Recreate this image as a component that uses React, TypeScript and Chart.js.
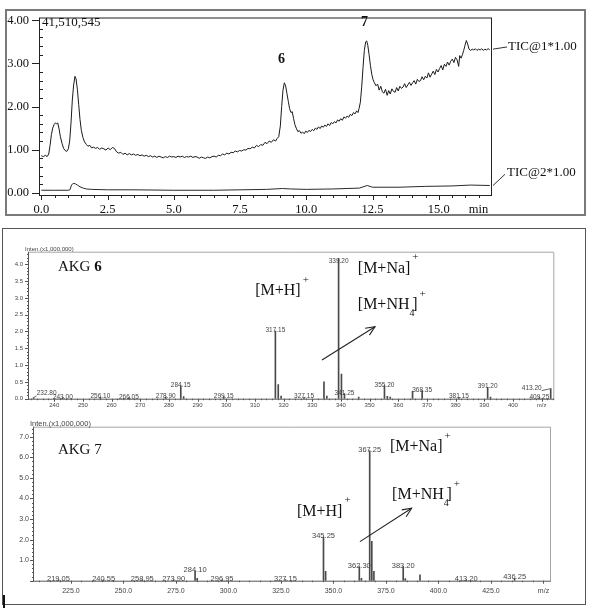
import React, { useEffect, useRef } from 'react';
import { Chart, registerables } from 'chart.js';

Chart.register(...registerables);

const SERIF = '"Liberation Serif", "DejaVu Serif", serif';
const SANS = '"Liberation Sans", "DejaVu Sans", sans-serif';

// ---------------- Chromatogram (TIC) ----------------
const tic1Time = [
  0.00, 0.08, 0.15, 0.22, 0.28, 0.33, 0.38, 0.43, 0.48, 0.53, 0.58, 0.62, 0.67, 0.72, 0.78, 0.84, 0.90, 0.96,
  1.02, 1.07, 1.12, 1.17, 1.22, 1.27, 1.31, 1.36, 1.41, 1.46, 1.51, 1.57, 1.63, 1.70, 1.76, 1.83, 1.90, 1.97,
  2.05, 2.12, 2.20, 2.28, 2.36, 2.44, 2.52, 2.60, 2.68, 2.76, 2.84, 2.92, 3.00, 3.08, 3.16, 3.24, 3.32, 3.40,
  3.48, 3.56, 3.64, 3.72, 3.80, 3.88, 3.96, 4.04, 4.12, 4.20, 4.28, 4.36, 4.44, 4.52, 4.60, 4.68, 4.76, 4.84,
  4.92, 5.00, 5.08, 5.16, 5.24, 5.32, 5.40, 5.48, 5.56, 5.64, 5.72, 5.80, 5.88, 5.96, 6.04, 6.12, 6.20, 6.28,
  6.36, 6.44, 6.52, 6.60, 6.68, 6.76, 6.84, 6.92, 7.00, 7.08, 7.16, 7.24, 7.32, 7.40, 7.48, 7.56, 7.64, 7.72,
  7.80, 7.88, 7.96, 8.04, 8.12, 8.20, 8.28, 8.36, 8.44, 8.52, 8.60, 8.68, 8.76, 8.84, 8.90, 8.96, 9.02, 9.07,
  9.12, 9.17, 9.22, 9.27, 9.32, 9.37, 9.42, 9.47, 9.52, 9.57, 9.62, 9.68, 9.74, 9.80, 9.86, 9.92, 9.98, 10.04,
  10.10, 10.16, 10.22, 10.28, 10.34, 10.40, 10.46, 10.52, 10.58, 10.64, 10.70, 10.76, 10.82, 10.88, 10.94,
  11.00, 11.06, 11.12, 11.18, 11.24, 11.30, 11.36, 11.42, 11.48, 11.54, 11.60, 11.66, 11.72, 11.78, 11.84,
  11.90, 11.95, 11.99, 12.04, 12.09, 12.14, 12.19, 12.24, 12.28, 12.32, 12.37, 12.42, 12.47, 12.52, 12.57,
  12.63, 12.69, 12.75, 12.81, 12.87, 12.93, 12.99, 13.05, 13.11, 13.17, 13.23, 13.29, 13.35, 13.41, 13.47,
  13.53, 13.59, 13.65, 13.71, 13.77, 13.83, 13.89, 13.95, 14.01, 14.07, 14.13, 14.19, 14.25, 14.31, 14.37,
  14.43, 14.49, 14.55, 14.61, 14.67, 14.73, 14.79, 14.85, 14.91, 14.97, 15.03, 15.09, 15.15, 15.21, 15.27,
  15.33, 15.39, 15.45, 15.51, 15.57, 15.63, 15.69, 15.75, 15.79, 15.84, 15.89, 15.94, 15.99, 16.04, 16.09,
  16.14, 16.20, 16.26, 16.32, 16.38, 16.44, 16.50, 16.56, 16.62, 16.68, 16.74, 16.80, 16.86, 16.92,
];
const tic1Value = [
  0.86, 0.84, 0.87, 0.84, 0.90, 1.10, 1.35, 1.50, 1.58, 1.62, 1.60, 1.62, 1.48, 1.30, 1.15, 1.03, 0.98, 0.96,
  1.02, 1.20, 1.62, 2.15, 2.50, 2.70, 2.64, 2.40, 2.05, 1.70, 1.45, 1.28, 1.18, 1.12, 1.08, 1.10, 1.04, 1.06,
  1.03, 1.05, 1.01, 1.04, 1.02, 0.99, 1.04, 1.00, 1.05, 1.03, 0.95, 0.92, 0.94, 0.89, 0.92, 0.88, 0.91, 0.88,
  0.90, 0.87, 0.89, 0.86, 0.88, 0.85, 0.87, 0.84, 0.86, 0.83, 0.85, 0.82, 0.85, 0.83, 0.81, 0.84, 0.82, 0.85,
  0.83, 0.84, 0.82, 0.85, 0.83, 0.85, 0.82, 0.84, 0.83, 0.85, 0.82, 0.84, 0.83, 0.80, 0.83, 0.81, 0.80, 0.83,
  0.81, 0.84, 0.85, 0.83, 0.87, 0.86, 0.90, 0.88, 0.92, 0.90, 0.94, 0.93, 0.97, 0.95, 0.98, 0.97, 1.00, 0.99,
  1.03, 1.02, 1.06, 1.04, 1.10, 1.07, 1.12, 1.10, 1.17, 1.14, 1.20, 1.17, 1.23, 1.20, 1.26, 1.30, 1.55, 2.00,
  2.38, 2.55, 2.48, 2.30, 2.12, 1.95, 1.86, 1.88, 1.72, 1.58, 1.50, 1.42, 1.44, 1.38, 1.41, 1.37, 1.43, 1.40,
  1.45, 1.42, 1.47, 1.44, 1.50, 1.47, 1.53, 1.49, 1.55, 1.52, 1.57, 1.54, 1.60, 1.56, 1.63,
  1.60, 1.65, 1.62, 1.69, 1.66, 1.72, 1.68, 1.76, 1.73, 1.78, 1.75, 1.82, 1.79, 1.86, 1.83,
  1.90, 1.86, 1.95, 2.10, 2.45, 2.90, 3.30, 3.50, 3.52, 3.42, 3.20, 2.95, 2.75, 2.62, 2.55,
  2.48, 2.52, 2.38, 2.47, 2.34, 2.31, 2.40, 2.26, 2.37, 2.29, 2.41, 2.35, 2.33, 2.44, 2.36,
  2.47, 2.42, 2.45, 2.53, 2.44, 2.50, 2.56, 2.49, 2.55, 2.60, 2.52, 2.63, 2.58, 2.60, 2.69,
  2.62, 2.70, 2.66, 2.78, 2.68, 2.75, 2.82, 2.74, 2.86, 2.80, 2.88, 2.95, 2.85, 2.98, 2.93,
  3.03, 2.96, 3.05, 3.10, 3.02, 3.14, 3.08, 2.93, 3.18, 3.12, 3.20, 3.30, 3.42, 3.53, 3.45,
  3.33, 3.30, 3.33, 3.31, 3.34, 3.30, 3.33, 3.31, 3.34, 3.30, 3.33, 3.31, 3.34, 3.32,
];
const tic2Time = [0.00, 0.50, 1.00, 1.08, 1.14, 1.20, 1.28, 1.36, 1.46, 1.58, 1.70, 1.90, 2.50, 3.50, 5.00, 6.50, 7.50, 8.50, 9.10, 9.40, 10.00, 11.00, 12.00, 12.30, 12.50, 13.50, 14.50, 15.50, 16.20, 16.92];
const tic2Value = [0.06, 0.06, 0.06, 0.07, 0.18, 0.22, 0.21, 0.18, 0.14, 0.11, 0.09, 0.08, 0.07, 0.07, 0.06, 0.06, 0.07, 0.08, 0.10, 0.09, 0.08, 0.09, 0.11, 0.17, 0.13, 0.13, 0.15, 0.16, 0.18, 0.17];
const peakMarkText = ['6', '7'];
const peakMarkTime = [9.06, 12.2];
const peakMarkValue = [3.1, 3.95];

// ---------------- Mass spectrum AKG 6 ----------------
const ms6Mz = [232.80, 243.00, 256.10, 266.05, 278.90, 284.15, 285.15, 299.15, 317.15, 318.15, 319.15, 327.15, 334.10, 335.10, 339.20, 340.20, 341.25, 346.20, 355.20, 356.20, 357.20, 365.00, 368.35, 381.15, 391.20, 392.20, 409.25, 413.20];
const ms6Int = [0.03, 0.03, 0.04, 0.03, 0.05, 0.38, 0.06, 0.06, 2.01, 0.42, 0.08, 0.04, 0.50, 0.08, 4.18, 0.73, 0.15, 0.05, 0.39, 0.07, 0.05, 0.22, 0.24, 0.04, 0.34, 0.05, 0.03, 0.30];
const ms6Label = ['232.80', '243.00', '256.10', '266.05', '278.90', '284.15', '', '299.15', '317.15', '', '', '327.15', '', '', '339.20', '', '341.25', '', '355.20', '', '', '', '368.35', '381.15', '391.20', '', '409.25', '413.20'];

// ---------------- Mass spectrum AKG 7 ----------------
const ms7Mz = [219.05, 240.55, 258.95, 273.90, 284.10, 285.10, 296.95, 327.15, 345.25, 346.25, 362.30, 363.30, 367.25, 368.25, 369.25, 383.20, 384.20, 391.20, 413.20, 436.25];
const ms7Int = [0.04, 0.04, 0.04, 0.04, 0.45, 0.12, 0.04, 0.05, 2.12, 0.45, 0.69, 0.12, 6.32, 1.92, 0.45, 0.69, 0.10, 0.29, 0.04, 0.12];
const ms7Label = ['219.05', '240.55', '258.95', '273.90', '284.10', '', '296.95', '327.15', '345.25', '', '362.30', '', '367.25', '', '', '383.20', '', '', '413.20', '436.25'];

type Ion = { text: string; sub: string; mz: number; v: number };
const ms6Ions: Ion[] = [
  { text: '[M+H]', sub: '', mz: 310.1, v: 3.21 },
  { text: '[M+Na]', sub: '', mz: 345.9, v: 3.88 },
  { text: '[M+NH', sub: '4', mz: 345.9, v: 2.79 },
];
const ms7Ions: Ion[] = [
  { text: '[M+Na]', sub: '', mz: 376.9, v: 6.52 },
  { text: '[M+NH', sub: '4', mz: 377.9, v: 4.17 },
  { text: '[M+H]', sub: '', mz: 332.6, v: 3.36 },
];

const near = (v: number, m: number) => Math.abs(v / m - Math.round(v / m)) < 1e-6;
const pts = (xs: number[], ys: number[]) => xs.map((x, i) => ({ x, y: ys[i] }));

function seg(ctx: any, x1: number, y1: number, x2: number, y2: number) {
  ctx.beginPath();
  ctx.moveTo(x1, y1);
  ctx.lineTo(x2, y2);
  ctx.stroke();
}

function arrow(ctx: any, x1: number, y1: number, x2: number, y2: number) {
  seg(ctx, x1, y1, x2, y2);
  const ang = Math.atan2(y2 - y1, x2 - x1);
  const L = 10, w = 0.42;
  ctx.beginPath();
  ctx.moveTo(x2 - L * Math.cos(ang - w), y2 - L * Math.sin(ang - w));
  ctx.lineTo(x2, y2);
  ctx.lineTo(x2 - L * Math.cos(ang + w), y2 - L * Math.sin(ang + w));
  ctx.stroke();
}

const ticDecor = {
  id: 'ticDecor',
  afterDraw(chart: any) {
    const { ctx, chartArea: a } = chart;
    const x = chart.scales.x, y = chart.scales.y;
    ctx.save();
    ctx.strokeStyle = '#222';
    ctx.lineWidth = 1;
    ctx.strokeRect(a.left - 0.5, a.top - 0.5, a.right - a.left + 1, a.bottom - a.top + 1);
    y.ticks.forEach((t: any) => {
      const py = Math.round(y.getPixelForValue(t.value)) + 0.5;
      if (near(t.value, 1)) seg(ctx, a.left - 8, py, a.left, py);
      else seg(ctx, a.left, py, a.left + 3, py);
    });
    x.ticks.forEach((t: any) => {
      const px = Math.round(x.getPixelForValue(t.value)) + 0.5;
      seg(ctx, px, a.bottom, px, a.bottom + (near(t.value, 2.5) ? 5 : 3));
    });
    ctx.fillStyle = '#111';
    ctx.font = `13px ${SERIF}`;
    ctx.textAlign = 'left';
    ctx.textBaseline = 'middle';
    ctx.fillText('41,510,545', a.left + 2, y.getPixelForValue(3.95));
    // channel labels
    ctx.fillText('TIC@1*1.00', a.right + 17, y.getPixelForValue(3.38));
    ctx.fillText('TIC@2*1.00', a.right + 16, y.getPixelForValue(0.46));
    ctx.strokeStyle = '#333';
    seg(ctx, a.right + 2, y.getPixelForValue(3.33), a.right + 16, y.getPixelForValue(3.38));
    seg(ctx, a.right + 2, y.getPixelForValue(0.17), a.right + 14, y.getPixelForValue(0.43));
    // peak numbers
    ctx.font = `bold 14px ${SERIF}`;
    ctx.textAlign = 'center';
    peakMarkText.forEach((s, i) => {
      ctx.fillText(s, x.getPixelForValue(peakMarkTime[i]), y.getPixelForValue(peakMarkValue[i]));
    });
    ctx.restore();
  },
};

type MsCfg = {
  mz: number[]; inten: number[]; labels: string[];
  labelFont: number; intenFont: number; xMajor: number; yMajor: number;
  ions: Ion[]; arrowFrom: number[]; arrowTo: number[];
  title: string; titleNum: string; titleBold: boolean; titlePos: number[];
  shifts: Record<string, number[]>;
};

function makeMsDecor(cfg: MsCfg) {
  return {
    id: 'msDecor',
    afterDraw(chart: any) {
      const { ctx, chartArea: a } = chart;
      const x = chart.scales.x, y = chart.scales.y;
      ctx.save();
      ctx.lineWidth = 1;
      ctx.strokeStyle = '#a5a5a5';
      ctx.beginPath();
      ctx.moveTo(a.left, a.top - 0.5);
      ctx.lineTo(a.right + 0.5, a.top - 0.5);
      ctx.lineTo(a.right + 0.5, a.bottom);
      ctx.stroke();
      ctx.strokeStyle = '#555';
      ctx.beginPath();
      ctx.moveTo(a.left - 0.5, a.top - 1);
      ctx.lineTo(a.left - 0.5, a.bottom + 0.5);
      ctx.lineTo(a.right + 1, a.bottom + 0.5);
      ctx.stroke();
      y.ticks.forEach((t: any) => {
        const py = Math.round(y.getPixelForValue(t.value)) + 0.5;
        seg(ctx, a.left - (near(t.value, cfg.yMajor) ? 4 : 2), py, a.left, py);
      });
      x.ticks.forEach((t: any) => {
        const px = Math.round(x.getPixelForValue(t.value)) + 0.5;
        seg(ctx, px, a.bottom, px, a.bottom + (near(t.value, cfg.xMajor) ? 3 : 1.5));
      });
      ctx.fillStyle = '#444';
      ctx.font = `${cfg.intenFont}px ${SANS}`;
      ctx.textAlign = 'left';
      ctx.textBaseline = 'bottom';
      ctx.fillText('Inten.(x1,000,000)', a.left - 4, a.top - 0.5);
      // peak labels
      ctx.font = `${cfg.labelFont}px ${SANS}`;
      ctx.textAlign = 'center';
      ctx.textBaseline = 'alphabetic';
      ctx.strokeStyle = '#666';
      cfg.labels.forEach((lab, i) => {
        if (!lab) return;
        const px = x.getPixelForValue(cfg.mz[i]);
        const py = y.getPixelForValue(cfg.inten[i]);
        const s = cfg.shifts[lab] || [0, 0];
        const tx = px + s[0];
        const ty = Math.max(py + 1, a.top + 10) + s[1];
        ctx.fillText(lab, tx, ty);
        if (s[0] !== 0) {
          const w = ctx.measureText(lab).width;
          seg(ctx, px, py, tx - Math.sign(s[0]) * w / 2, ty + 1);
        }
      });
      // title
      ctx.fillStyle = '#111';
      ctx.textAlign = 'left';
      ctx.textBaseline = 'middle';
      ctx.font = `15px ${SERIF}`;
      const tx0 = x.getPixelForValue(cfg.titlePos[0]);
      const ty0 = y.getPixelForValue(cfg.titlePos[1]);
      ctx.fillText(cfg.title, tx0, ty0);
      const tw = ctx.measureText(cfg.title).width;
      ctx.font = `${cfg.titleBold ? 'bold ' : ''}15px ${SERIF}`;
      ctx.fillText(cfg.titleNum, tx0 + tw, ty0);
      // ion labels
      cfg.ions.forEach((ion) => {
        const ix = x.getPixelForValue(ion.mz);
        const iy = y.getPixelForValue(ion.v);
        ctx.font = `16px ${SERIF}`;
        ctx.fillText(ion.text, ix, iy);
        let cx = ix + ctx.measureText(ion.text).width;
        if (ion.sub) {
          ctx.font = `10px ${SERIF}`;
          ctx.fillText(ion.sub, cx, iy + 8);
          cx += ctx.measureText(ion.sub).width * 0.55;
          ctx.font = `16px ${SERIF}`;
          ctx.fillText(']', cx, iy);
          cx += ctx.measureText(']').width;
        }
        ctx.font = `11px ${SERIF}`;
        ctx.fillText('+', cx + 2, iy - 11);
      });
      ctx.strokeStyle = '#222';
      ctx.lineWidth = 1.1;
      arrow(ctx, x.getPixelForValue(cfg.arrowFrom[0]), y.getPixelForValue(cfg.arrowFrom[1]),
        x.getPixelForValue(cfg.arrowTo[0]), y.getPixelForValue(cfg.arrowTo[1]));
      ctx.restore();
    },
  };
}

function msChart(canvas: HTMLCanvasElement, o: any) {
  return new Chart(canvas, {
    type: 'bar',
    data: {
      datasets: [{ data: pts(o.mz, o.inten), backgroundColor: '#4a4a4a', borderWidth: 0, barThickness: 1 } as any],
    },
    options: {
      animation: false,
      responsive: false,
      devicePixelRatio: 1,
      layout: { padding: o.padding },
      plugins: { legend: { display: false }, tooltip: { enabled: false } },
      scales: {
        x: {
          type: 'linear', min: o.xMin, max: o.xMax, offset: false,
          afterFit: (s: any) => { s.height = o.xHeight; },
          grid: { display: false, drawTicks: false, offset: false },
          border: { display: false },
          ticks: {
            stepSize: o.xStep, includeBounds: false, autoSkip: false, maxRotation: 0, minRotation: 0,
            padding: o.xPad, color: '#444', font: { family: SANS, size: o.tickFont },
            callback: o.xCallback,
          },
        },
        y: {
          type: 'linear', min: 0, max: o.yMax,
          afterFit: (s: any) => { s.width = o.yWidth; },
          grid: { display: false, drawTicks: false },
          border: { display: false },
          ticks: {
            stepSize: o.yStep, includeBounds: false, autoSkip: false,
            padding: o.yPad, color: '#444', font: { family: SANS, size: o.tickFont },
            callback: o.yCallback,
          },
        },
      },
    } as any,
    plugins: [makeMsDecor(o.decor)],
  });
}

export default function App() {
  const c1 = useRef<HTMLCanvasElement>(null);
  const c2 = useRef<HTMLCanvasElement>(null);
  const c3 = useRef<HTMLCanvasElement>(null);

  useEffect(() => {
    const charts: Chart[] = [];
    if (c1.current) {
      charts.push(new Chart(c1.current, {
        type: 'line',
        data: {
          datasets: [
            { data: pts(tic1Time, tic1Value), borderColor: '#1a1a1a', borderWidth: 1, pointRadius: 0, tension: 0 },
            { data: pts(tic2Time, tic2Value), borderColor: '#2a2a2a', borderWidth: 1, pointRadius: 0, tension: 0 },
          ],
        },
        options: {
          animation: false,
          responsive: false,
          devicePixelRatio: 1,
          layout: { padding: { left: 0, top: 13, right: 107, bottom: 0 } },
          plugins: { legend: { display: false }, tooltip: { enabled: false } },
          scales: {
            x: {
              type: 'linear', min: -0.05, max: 16.97,
              afterFit: (s: any) => { s.height = 27; },
              grid: { display: false, drawTicks: false },
              border: { display: false },
              ticks: {
                stepSize: 0.5, includeBounds: false, autoSkip: false, maxRotation: 0, minRotation: 0,
                padding: 7, color: '#111', font: { family: SERIF, size: 12.5 },
                callback: (v: any) => (near(v, 2.5) ? Number(v).toFixed(1) : Math.abs(v - 16.5) < 1e-6 ? 'min' : ''),
              },
            },
            y: {
              type: 'linear', min: -0.05, max: 4.04,
              afterFit: (s: any) => { s.width = 40; },
              grid: { display: false, drawTicks: false },
              border: { display: false },
              ticks: {
                stepSize: 0.2, includeBounds: false, autoSkip: false,
                padding: 11, color: '#111', font: { family: SERIF, size: 12.5 },
                callback: (v: any) => (near(v, 1) ? Number(v).toFixed(2) : ''),
              },
            },
          },
        } as any,
        plugins: [ticDecor],
      }));
    }
    if (c2.current) {
      charts.push(msChart(c2.current, {
        mz: ms6Mz, inten: ms6Int,
        padding: { left: 0, top: 24.7, right: 44.7, bottom: 0 },
        xMin: 231.2, xMax: 414.1, xStep: 2, xHeight: 11.3, xPad: 3,
        yMax: 4.345, yStep: 0.1, yWidth: 29, yPad: 6, tickFont: 6,
        xCallback: (v: any) => (near(v, 10) ? (Math.abs(v - 410) < 1e-6 ? 'm/z' : String(Math.round(v))) : ''),
        yCallback: (v: any) => (near(v, 0.5) ? Number(v).toFixed(1) : ''),
        decor: {
          mz: ms6Mz, inten: ms6Int, labels: ms6Label, labelFont: 6.5, intenFont: 6,
          xMajor: 10, yMajor: 0.5, ions: ms6Ions,
          arrowFrom: [333.4, 1.15], arrowTo: [351.9, 2.14],
          title: 'AKG ', titleNum: '6', titleBold: true, titlePos: [241.3, 3.92],
          shifts: { '232.80': [13, -4], '413.20': [-19, 0] },
        },
      }));
    }
    if (c3.current) {
      charts.push(msChart(c3.current, {
        mz: ms7Mz, inten: ms7Int,
        padding: { left: 0, top: 17.7, right: 48, bottom: 0 },
        xMin: 207.4, xMax: 453.1, xStep: 5, xHeight: 33.3, xPad: 6,
        yMax: 7.44, yStep: 0.2, yWidth: 34, yPad: 5, tickFont: 7,
        xCallback: (v: any) => (near(v, 25) ? (Math.abs(v - 450) < 1e-6 ? 'm/z' : Number(v).toFixed(1)) : ''),
        yCallback: (v: any) => (near(v, 1) && v > 0.5 ? Number(v).toFixed(1) : ''),
        decor: {
          mz: ms7Mz, inten: ms7Int, labels: ms7Label, labelFont: 7.5, intenFont: 7.5,
          xMajor: 25, yMajor: 1, ions: ms7Ions,
          arrowFrom: [362.6, 1.9], arrowTo: [387.2, 3.52],
          title: 'AKG ', titleNum: '7', titleBold: false, titlePos: [218.8, 6.36],
          shifts: {},
        },
      }));
    }
    return () => charts.forEach((c) => c.destroy());
  }, []);

  return (
    <div style={{ position: 'absolute', left: 0, top: 0, width: 598, height: 614, background: '#fff', overflow: 'hidden' }}>
      <div style={{ position: 'absolute', left: 5, top: 9, width: 581, height: 207, border: '2px solid #7a7a7a', boxSizing: 'border-box' }} />
      <div style={{ position: 'absolute', left: 2, top: 228, width: 584, height: 377, border: '1.5px solid #555', boxSizing: 'border-box' }} />
      <div style={{ position: 'absolute', left: 3, top: 595, width: 2, height: 13, background: '#111' }} />
      <canvas ref={c1} width={598} height={222} style={{ position: 'absolute', left: 0, top: 0 }} />
      <canvas ref={c2} width={598} height={182} style={{ position: 'absolute', left: 0, top: 228 }} />
      <canvas ref={c3} width={598} height={204} style={{ position: 'absolute', left: 0, top: 410 }} />
    </div>
  );
}
